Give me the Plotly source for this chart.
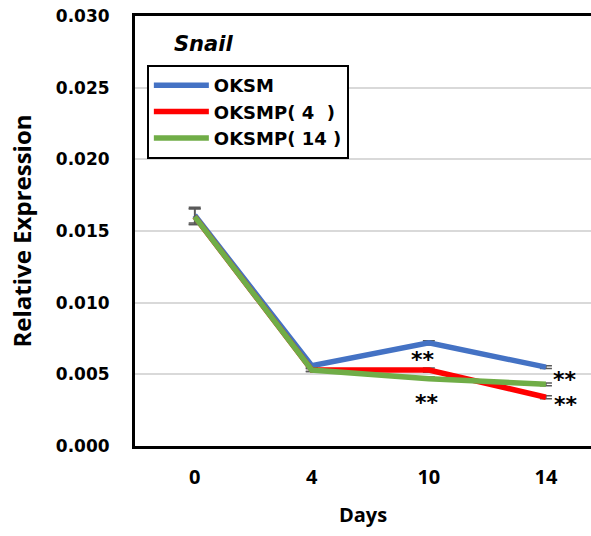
import plotly.graph_objects as go

# Snail relative expression over the reprogramming time course
days = ["0", "4", "10", "14"]

oksm = [0.0161, 0.0056, 0.0072, 0.0055]
oksm_err = [0.00055, 0.0001, 0.00015, 0.0001]

oksmp4 = [0.0160, 0.0053, 0.0053, 0.0034]
oksmp4_err = [0.00055, 0.0001, 0.00015, 0.0001]

oksmp14 = [0.0160, 0.0053, 0.0047, 0.0043]
oksmp14_err = [0.00055, 0.0001, 0.00012, 0.0001]

series_names = ["OKSM", "OKSMP(\u00a04\u00a0\u00a0)", "OKSMP(\u00a014\u00a0)"]
series_colors = ["#4472C4", "#FF0000", "#70AD47"]

# significance marks: (day index, reference series value, x shift px, y shift px)
sig_marks = [
    (2, oksmp4[2], -6, 11),
    (2, oksmp14[2], -2, -24),
    (3, oksmp14[3], 19, 5),
    (3, oksmp4[3], 20, -7),
]

fig = go.Figure()
for name, vals, errs, color in zip(
    series_names,
    [oksm, oksmp4, oksmp14],
    [oksm_err, oksmp4_err, oksmp14_err],
    series_colors,
):
    fig.add_trace(
        go.Scatter(
            x=days,
            y=vals,
            name=name,
            legendgroup=name,
            mode="lines",
            line=dict(color=color, width=5.5),
            error_y=dict(type="data", array=errs, visible=True,
                         color="#595959", thickness=1.5, width=6),
        )
    )

for idx, val, dx, dy in sig_marks:
    fig.add_annotation(
        x=idx, y=val, xref="x", yref="y", text="**",
        showarrow=False, xshift=dx, yshift=dy,
        font=dict(family="DejaVu Sans", size=22, color="black", weight="bold"),
        xanchor="center", yanchor="middle",
    )

fig.add_annotation(
    x=0.081, y=0.935, xref="paper", yref="paper", text="<b><i>Snail</i></b>",
    showarrow=False, xanchor="left", yanchor="middle",
    font=dict(family="DejaVu Sans", size=21, color="black"),
)

fig.update_layout(
    width=591,
    height=536,
    margin=dict(l=135, r=0, t=16, b=90),
    paper_bgcolor="white",
    plot_bgcolor="white",
    showlegend=True,
    legend=dict(
        x=0.026, y=0.886, xanchor="left", yanchor="top",
        bordercolor="black", borderwidth=2, bgcolor="white",
        font=dict(family="DejaVu Sans", size=18, color="black", weight="bold"),
        itemwidth=55, tracegroupgap=0,
    ),
    xaxis=dict(
        type="category",
        range=[-0.51, 3.385],
        showgrid=False,
        showline=True, linecolor="black", linewidth=3, mirror=True,
        ticks="", ticklabelstandoff=11,
        tickfont=dict(family="Open Sans", size=20, color="black", weight="bold"),
        title=dict(text="Days", standoff=19,
                   font=dict(family="Open Sans", size=20, color="black", weight="bold")),
    ),
    yaxis=dict(
        range=[0, 0.030],
        tickvals=[0, 0.005, 0.010, 0.015, 0.020, 0.025, 0.030],
        tickformat=".3f",
        showgrid=True, gridcolor="#d9d9d9", gridwidth=1.5,
        zeroline=False,
        showline=True, linecolor="black", linewidth=3, mirror=False,
        ticks="", ticklabelstandoff=19,
        tickfont=dict(family="DejaVu Sans", size=17, color="black", weight="bold"),
        title=dict(text="Relative Expression", standoff=18,
                   font=dict(family="Open Sans", size=24, color="black", weight="bold")),
    ),
)

fig.write_html("out.html")
